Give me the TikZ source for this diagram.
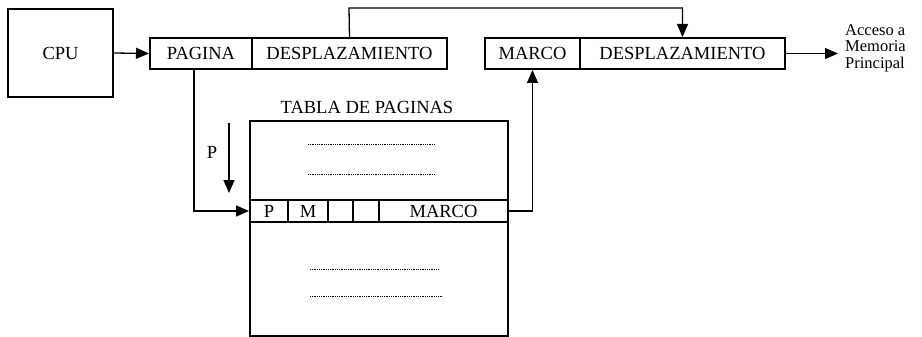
\documentclass[tikz,border=0pt]{standalone}
\usepackage{fontspec}
\setmainfont{Liberation Serif}
\usetikzlibrary{arrows.meta}
\begin{document}
\begin{tikzpicture}[x=1pt,y=-1pt,
  lbl/.style={font=\fontsize{18.5}{20}\selectfont, inner sep=0pt},
  thinbox/.style={draw, line width=1.3pt, inner sep=0pt, font=\fontsize{18.5}{20}\selectfont},
  thickbox/.style={draw, line width=2pt, inner sep=0pt, font=\fontsize{18.5}{20}\selectfont},
  conn/.style={line width=1.3pt, -{Triangle[length=13pt,width=11pt]}},
  dots/.style={line width=0.7pt, dash pattern=on 0.7pt off 1.1pt}]
\useasboundingbox (0,0) rectangle (922,337);
% CPU
\node[thinbox, minimum width=105pt, minimum height=88pt] (cpu) at (60.5,53) {CPU};
% logical address
\node[thickbox, minimum width=102pt, minimum height=31pt] (pag) at (201,53.5) {PAGINA};
\node[thickbox, minimum width=195pt, minimum height=31pt] (desp1) at (349.5,53.5) {DESPLAZAMIENTO};
% physical address
\node[thickbox, minimum width=95pt, minimum height=31pt] (mar) at (532.5,53.5) {MARCO};
\node[thickbox, minimum width=205pt, minimum height=31pt] (desp2) at (682.5,53.5) {DESPLAZAMIENTO};
% output text
\node[lbl, anchor=west, align=left, font=\fontsize{16.5}{16.5}\selectfont] (acc) at (845,48) {Acceso a\\Memoria\\Principal};
\coordinate (accend) at (838,53.5);
% table
\node[lbl] (title) at (367,107) {TABLA DE PAGINAS};
\node[thinbox, minimum width=258pt, minimum height=215pt] (tab) at (379,228.5) {};
\node[thickbox, minimum width=38pt, minimum height=22pt] (cp) at (269,211) {P};
\node[thickbox, minimum width=40pt, minimum height=22pt] (cm) at (308,211) {M};
\node[thickbox, minimum width=25pt, minimum height=22pt] (c3) at (340.5,211) {};
\node[thickbox, minimum width=26pt, minimum height=22pt] (c4) at (366,211) {};
\node[thickbox, minimum width=129pt, minimum height=22pt] (cmarco) at (443.5,211) {MARCO};
% dotted entries
\coordinate (d1a) at (308,144); \coordinate (d1b) at (435,144);
\coordinate (d2a) at (308,174); \coordinate (d2b) at (435,174);
\coordinate (d3a) at (310,269); \coordinate (d3b) at (438,269);
\coordinate (d4a) at (310,296); \coordinate (d4b) at (442,296);
\draw[dots] (d1a) -- (d1b);
\draw[dots] (d2a) -- (d2b);
\draw[dots] (d3a) -- (d3b);
\draw[dots] (d4a) -- (d4b);
% P index arrow
\node[lbl] (plabel) at (212,152) {P};
\coordinate (pa1) at (229,123);
\coordinate (pa2) at (229,193);
\draw[conn] (pa1) -- (pa2);
% connectors
\draw[conn] (cpu.east) -- (pag.west);
\coordinate (pgdown) at ([xshift=-7pt]pag.south);
\draw[conn] (pgdown) |- (cp.west);
\coordinate (topl) at (349,8);
\draw[conn] (desp1.north) -- (topl) -| (desp2.north);
\draw[conn] (cmarco.east) -| (mar.south);
\draw[conn] (desp2.east) -- (accend);
\end{tikzpicture}
\end{document}
